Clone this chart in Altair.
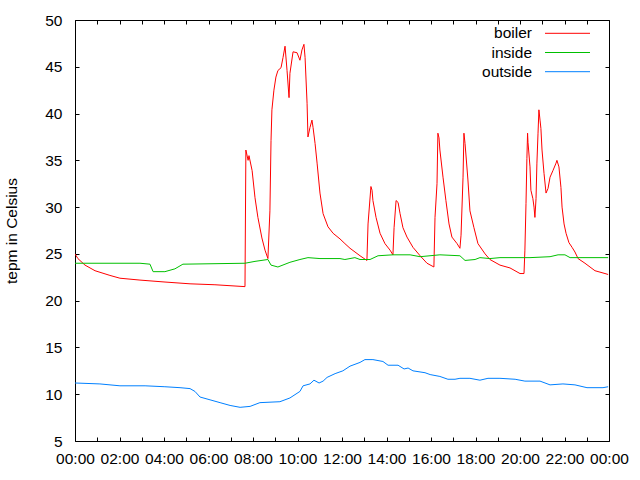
import altair as alt
import pandas as pd

FONT = "Liberation Sans"
FS = 15.5

boiler_h = [0.00, 0.13, 0.45, 0.90, 1.57, 2.02, 2.92, 4.00, 5.17, 6.29, 7.64, 7.68, 7.78, 7.82, 7.96,
            8.09, 8.22, 8.40, 8.54, 8.67, 8.76, 8.81, 8.85, 8.94, 9.03, 9.12, 9.26, 9.35, 9.44, 9.53,
            9.62, 9.66, 9.80, 9.98, 10.11, 10.20, 10.29, 10.34, 10.43, 10.47, 10.56, 10.65, 10.70,
            10.79, 10.88, 11.01, 11.15, 11.37, 11.60, 11.91, 12.13, 12.36, 12.81, 13.12, 13.17, 13.30,
            13.35, 13.39, 13.53, 13.71, 13.93, 14.16, 14.29, 14.34, 14.43, 14.52, 14.61, 14.74, 14.92,
            15.19, 15.51, 15.82, 16.13, 16.18, 16.27, 16.31, 16.36, 16.40, 16.54, 16.67, 16.81, 16.94,
            17.17, 17.30, 17.35, 17.44, 17.48, 17.53, 17.66, 17.75, 17.93, 18.11, 18.43, 18.65, 19.10,
            19.55, 20.00, 20.18, 20.22, 20.27, 20.31, 20.34, 20.36, 20.45, 20.49, 20.58, 20.63, 20.67,
            20.72, 20.76, 20.81, 20.85, 20.90, 20.94, 20.99, 21.08, 21.17, 21.26, 21.35, 21.48, 21.62,
            21.66, 21.75, 21.84, 21.89, 21.98, 22.07, 22.20, 22.34, 22.47, 22.61, 22.92, 23.37, 23.82,
            23.96]
boiler_v = [25.0, 24.5, 23.8, 23.2, 22.7, 22.4, 22.2, 22.0, 21.8, 21.7, 21.5, 36.1, 35.0, 35.5, 33.9,
            31.0, 28.9, 26.7, 25.4, 24.5, 29.6, 37.1, 40.4, 42.5, 43.9, 44.6, 44.9, 46.0, 47.2, 44.6,
            41.7, 44.3, 46.6, 46.5, 45.7, 46.8, 47.4, 46.0, 41.1, 37.5, 38.5, 39.3, 38.5,
            36.8, 34.7, 31.5, 29.3, 27.9, 27.2, 26.6, 26.1, 25.6, 24.8, 24.3, 28.2, 32.2,
            31.8, 30.7, 28.9, 27.2, 26.1, 25.4, 24.9, 27.8, 30.7, 30.5, 29.3, 27.8, 26.8,
            25.7, 24.8, 24.0, 23.6, 28.9, 32.5, 37.9, 37.4, 36.1, 33.2, 30.7, 28.2, 26.8,
            26.1, 25.6, 27.0, 33.2, 37.9, 36.8, 32.9, 29.6, 27.8, 26.1, 25.0, 24.4, 23.8,
            23.5, 22.9, 22.9, 25.4, 30.4, 35.2, 37.9, 36.9, 34.3, 31.8, 30.9, 30.0, 28.9,
            30.9, 34.7, 37.9, 40.4, 39.3, 38.4, 36.1, 33.6, 31.5, 32.0, 33.2, 33.9, 34.7,
            35.0, 34.3, 32.1, 30.0, 28.2, 27.2, 26.2, 25.7, 25.2, 24.5, 24.0, 23.2, 22.9,
            22.8]

inside_h = [0.00, 2.92, 3.37, 3.51, 4.04, 4.49, 4.85, 7.64, 8.09, 8.67, 8.81, 9.12, 9.66, 10.11,
            10.47, 11.01, 11.91, 12.13, 12.58, 12.81, 13.26, 13.62, 14.29, 15.06, 15.51, 16.40,
            17.30, 17.53, 17.98, 18.20, 18.65, 19.10, 20.45, 21.35, 21.71, 22.02, 22.25, 23.96]
inside_v = [24.0, 24.0, 23.9, 23.1, 23.1, 23.4, 23.9, 24.0, 24.2, 24.4, 23.8, 23.6, 24.1, 24.4,
            24.6, 24.5, 24.5, 24.4, 24.6, 24.4, 24.4, 24.8, 24.9, 24.9, 24.7, 24.9,
            24.8, 24.3, 24.4, 24.6, 24.5, 24.6, 24.6, 24.7, 24.9, 24.9, 24.6, 24.6]

outside_h = [0.00, 1.12, 2.02, 3.15, 4.04, 4.72, 5.17, 5.39, 5.62, 6.07, 6.52, 6.97, 7.42, 7.87,
             8.31, 9.21, 9.66, 10.11, 10.25, 10.56, 10.74, 10.97, 11.15, 11.33, 11.69, 12.04, 12.36,
             12.81, 13.03, 13.39, 13.84, 14.07, 14.52, 14.79, 14.97, 15.19, 15.73, 15.96, 16.40,
             16.76, 17.08, 17.30, 17.75, 18.20, 18.56, 19.10, 19.78, 20.22, 20.90, 21.35, 21.93,
             22.47, 23.01, 23.73, 23.96]
outside_v = [11.2, 11.1, 10.9, 10.9, 10.8, 10.7, 10.6, 10.3, 9.7, 9.4, 9.1, 8.8, 8.6, 8.7,
             9.1, 9.2, 9.6, 10.3, 10.9, 11.1, 11.5, 11.2, 11.4, 11.8, 12.2, 12.5, 13.0,
             13.4, 13.7, 13.7, 13.5, 13.1, 13.1, 12.7, 12.8, 12.5, 12.3, 12.1, 11.9,
             11.6, 11.6, 11.7, 11.7, 11.5, 11.7, 11.7, 11.6, 11.4, 11.4, 11.0, 11.1,
             11.0, 10.7, 10.7, 10.8]

series = ["boiler", "inside", "outside"]
colors = ["#ff0000", "#00c000", "#0080ff"]
x_ticks = list(range(0, 25))
y_ticks = list(range(5, 51, 5))

frames = []
for i, (name, hs, vs) in enumerate(zip(series, [boiler_h, inside_h, outside_h],
                                        [boiler_v, inside_v, outside_v])):
    frames.append(pd.DataFrame({"series": name, "order": i, "hour": hs, "temp": vs}))
df = pd.concat(frames, ignore_index=True)

W, H = 534, 421
xscale = alt.Scale(domain=[0, 24], nice=False, zero=False)
yscale = alt.Scale(domain=[5, 50], nice=False, zero=False)

label_expr = ("datum.value % 2 == 0 ? ((datum.value % 24) < 10 ? '0' : '') + "
              "(datum.value % 24) + ':00' : ''")

lines = alt.Chart(df).mark_line(strokeWidth=1, clip=True).encode(
    x=alt.X("hour:Q", scale=xscale,
            axis=alt.Axis(orient="bottom", values=x_ticks, labelExpr=label_expr, title=None,
                          grid=False, domain=False, tickSize=4, offset=-4, labelPadding=10,
                          labelFlush=False, labelOverlap=False, labelFont=FONT, labelFontSize=FS,
                          labelColor="#000000", tickColor="#000000")),
    y=alt.Y("temp:Q", scale=yscale,
            axis=alt.Axis(orient="left", values=y_ticks, title="tepm in Celsius", grid=False,
                          domain=False, tickSize=4, offset=-4, labelPadding=13, labelFont=FONT,
                          labelFontSize=FS, labelColor="#000000", tickColor="#000000",
                          titleFont=FONT, titleFontSize=FS, titleFontWeight="normal",
                          titleColor="#000000", titlePadding=25)),
    color=alt.Color("series:N", scale=alt.Scale(domain=series, range=colors), legend=None),
    detail="series:N",
    order="hour:Q",
)

mirror = alt.Chart(df).mark_point(opacity=0).encode(
    x=alt.X("hour:Q", scale=xscale,
            axis=alt.Axis(orient="top", values=x_ticks, labels=False, title=None, grid=False,
                          domain=False, tickSize=4, offset=-4, tickColor="#000000")),
    y=alt.Y("temp:Q", scale=yscale,
            axis=alt.Axis(orient="right", values=y_ticks, labels=False, title=None, grid=False,
                          domain=False, tickSize=4, offset=-4, tickColor="#000000")),
)

legend_layers = []
for i, (name, col) in enumerate(zip(series, colors)):
    ly = 13.3 + 19.2 * i
    ldf = pd.DataFrame({"name": [name]})
    legend_layers.append(
        alt.Chart(ldf).mark_text(align="right", baseline="middle", font=FONT, fontSize=FS,
                                 color="#000000").encode(
            x=alt.value(457), y=alt.value(ly), text="name:N"))
    legend_layers.append(
        alt.Chart(ldf).mark_rule(color=col, strokeWidth=1).encode(
            x=alt.value(470), x2=alt.value(515), y=alt.value(ly)))

chart = alt.layer(lines, mirror, *legend_layers).resolve_axis(
    x="independent", y="independent"
).properties(
    width=W, height=H,
    padding={"left": 75, "top": 20, "right": 31, "bottom": 39},
    autosize=alt.AutoSizeParams(type="none"),
    background="#ffffff",
).configure_view(stroke="#000000", strokeWidth=1)

chart.save("out.html", embed_options={"renderer": "svg", "actions": False})
